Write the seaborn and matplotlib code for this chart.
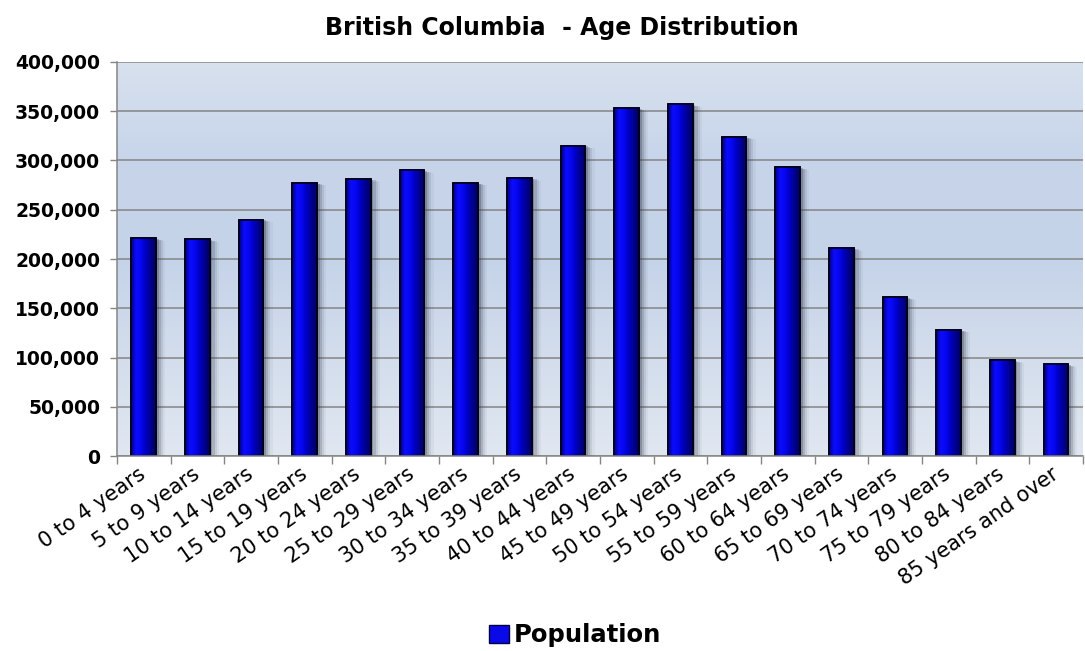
import numpy as np
import pandas as pd
import matplotlib
matplotlib.use("Agg")
import matplotlib.pyplot as plt
import matplotlib.patches as mpatches
from matplotlib.colors import LinearSegmentedColormap
from matplotlib.ticker import FuncFormatter, FixedLocator
import seaborn as sns

# =========================
# Data
# =========================
age_groups = [
    "0 to 4 years", "5 to 9 years", "10 to 14 years", "15 to 19 years",
    "20 to 24 years", "25 to 29 years", "30 to 34 years", "35 to 39 years",
    "40 to 44 years", "45 to 49 years", "50 to 54 years", "55 to 59 years",
    "60 to 64 years", "65 to 69 years", "70 to 74 years", "75 to 79 years",
    "80 to 84 years", "85 years and over",
]
population = [
    221000, 220000, 240000, 277000, 281000, 290000, 277000, 282000, 315000,
    353000, 357000, 324000, 293000, 211000, 161000, 128000, 97000, 93000,
]
yticks = [0, 50000, 100000, 150000, 200000, 250000, 300000, 350000, 400000]

df = pd.DataFrame({"age": age_groups, "population": population})

sns.set_style("white")
# wide sans face, closer to the stretched look of the original
plt.rcParams["font.family"] = ["DejaVu Sans"]
plt.rcParams["text.color"] = "black"
plt.rcParams["xtick.color"] = "black"
plt.rcParams["ytick.color"] = "black"

fig = plt.figure(figsize=(10.85, 6.51), dpi=100)
ax = fig.add_axes([0.1078, 0.2995, 0.8902, 0.6053])

# background gradient (light grey-blue at top, bluer lower down)
bg_cmap = LinearSegmentedColormap.from_list(
    "bg", ["#e0e7f1", "#d3ddec", "#c5d3e9", "#c7d4ea", "#d8e1ee"])
bg = np.linspace(0, 1, 256).reshape(-1, 1)
ax.imshow(bg, cmap=bg_cmap, extent=[0, 1, 1, 0], transform=ax.transAxes,
          aspect="auto", zorder=0.1)

sns.barplot(data=df, x="age", y="population", color="#0a0ae0",
            width=0.46, edgecolor="#000020", linewidth=1.2, ax=ax, zorder=2)

# cylinder-like shading and soft shadow on each bar
bar_cmap = LinearSegmentedColormap.from_list(
    "bar", ["#000080", "#0c0cff", "#0606f0", "#0000c0", "#00008c", "#000060"])
grad = np.linspace(0, 1, 64).reshape(1, -1)
for p in list(ax.patches):
    x0, y0, w, h = p.get_x(), p.get_y(), p.get_width(), p.get_height()
    for k, a in zip([0.05, 0.09, 0.13, 0.17], [0.28, 0.17, 0.10, 0.05]):
        ax.add_patch(mpatches.Rectangle((x0 + k, y0), w, h - k * 14000,
                                        facecolor="#30384a", edgecolor="none",
                                        alpha=a, zorder=1.5))
    im = ax.imshow(grad, cmap=bar_cmap, extent=[x0, x0 + w, y0, y0 + h],
                   aspect="auto", zorder=2.1)
    im.set_clip_path(p)
    ax.add_patch(mpatches.Rectangle((x0, y0), w, h, fill=False,
                                    edgecolor="#000018", linewidth=1.2,
                                    zorder=2.2))

ax.set_xlim(-0.5, len(age_groups) - 0.5)
ax.set_ylim(0, 400000)

# grid and axes
ax.set_axisbelow(True)
ax.yaxis.grid(True, color="#858585", linewidth=1.1)
ax.set_yticks(yticks)
ax.yaxis.set_major_formatter(FuncFormatter(lambda v, _: f"{v:,.0f}"))
for s in ["top", "right"]:
    ax.spines[s].set_visible(False)
for s in ["left", "bottom"]:
    ax.spines[s].set_color("#858585")
    ax.spines[s].set_linewidth(1.1)

ax.tick_params(axis="y", which="major", left=True, length=5, width=1,
               color="#858585", labelsize=13.5, pad=7)
for lbl in ax.get_yticklabels():
    lbl.set_fontweight("bold")

ax.xaxis.set_minor_locator(FixedLocator(np.arange(-0.5, len(age_groups), 1)))
ax.tick_params(axis="x", which="major", bottom=False, labelsize=15, pad=8)
ax.tick_params(axis="x", which="minor", bottom=True, length=6, width=1,
               color="#858585")
ax.set_xticks(range(len(age_groups)))
ax.set_xticklabels(age_groups, rotation=35, ha="right", va="center",
                   rotation_mode="anchor")
ax.set_xlabel("")
ax.set_ylabel("")

fig.text(0.518, 0.957, "British Columbia  - Age Distribution",
         ha="center", va="center", fontsize=17, fontweight="bold")

handle = mpatches.Patch(facecolor="#0a0ae8", edgecolor="#000040",
                        label="Population")
fig.legend(handles=[handle], loc="center", bbox_to_anchor=(0.53, 0.024),
           frameon=False, handlelength=0.8, handleheight=0.8,
           handletextpad=0.2, prop={"weight": "bold", "size": 17.5})

fig.savefig("out.png", dpi=100)
plt.close(fig)
